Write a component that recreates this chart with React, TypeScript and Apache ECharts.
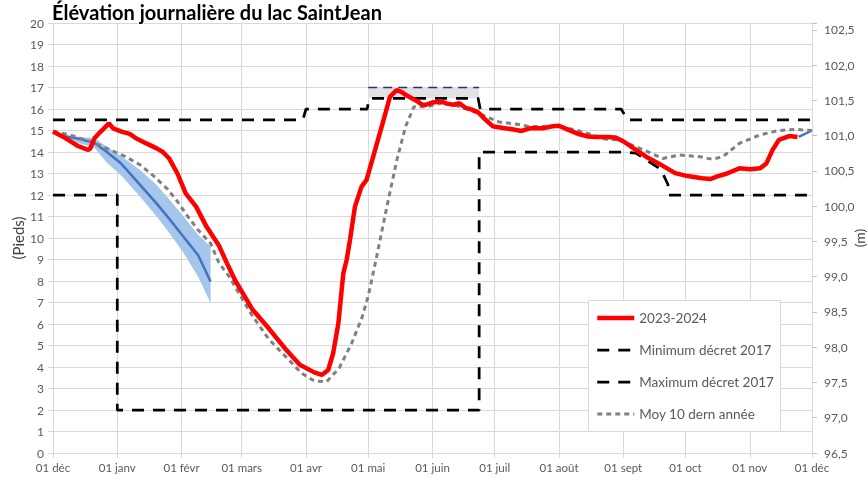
import React, { useEffect, useRef } from 'react';
import * as echarts from 'echarts';

const MONTH_LABELS = ['01 déc', '01 janv', '01 févr', '01 mars', '01 avr', '01 mai', '01 juin', '01 juil', '01 août', '01 sept', '01 oct', '01 nov', '01 déc'];
const MONTH_START_DAYS = [0, 31, 62, 91, 122, 152, 183, 213, 244, 275, 305, 336, 366];
const TOTAL_DAYS = 366;

const FEET_MIN = 0;
const FEET_MAX = 20;
const M_BASE = 96.5;
const FEET_TO_M = 0.3048;

// 2023-2024 observed level (day since 01 déc, feet)
const RED: [number, number][] = [
  [0, 14.95], [5, 14.7], [10, 14.4], [12, 14.28], [15, 14.17], [17, 14.1], [18, 14.17], [20, 14.64], [23, 14.95],
  [27, 15.33], [29, 15.1], [33, 14.95], [37, 14.84], [40, 14.64], [45, 14.4], [50, 14.17], [53, 14.0], [56, 13.7],
  [60, 13.0], [64, 12.08], [69, 11.46], [74, 10.53], [80, 9.65], [84, 8.8], [88, 8.0], [96, 6.7], [104, 5.8],
  [112, 4.85], [119, 4.1], [126, 3.75], [129.6, 3.63], [132.7, 3.86], [135.1, 4.64], [137.6, 6.03], [140, 8.36],
  [141.6, 8.98], [143.2, 9.9], [145.6, 11.46], [148.8, 12.39], [151.2, 12.7], [154.4, 13.78], [158.5, 15.18],
  [162.5, 16.57], [165.7, 16.88], [168, 16.8], [171, 16.6], [175, 16.4], [178, 16.2], [180, 16.2], [183, 16.3],
  [187, 16.35], [190, 16.25], [193, 16.2], [196, 16.27], [199, 16.05], [202, 15.97], [205, 15.85], [208, 15.55],
  [212, 15.2], [217, 15.12], [222, 15.05], [226, 14.98], [230, 15.1], [236, 15.1], [241, 15.2], [244, 15.22],
  [248, 15.05], [253, 14.85], [258, 14.72], [262, 14.7], [267, 14.7], [271, 14.68], [275, 14.5], [280, 14.17],
  [286, 13.78], [292, 13.47], [300, 13.02], [306, 12.88], [313, 12.78], [317, 12.74], [320, 12.85], [325, 13.0],
  [331, 13.24], [336, 13.2], [341, 13.24], [344, 13.47], [347, 14.1], [350, 14.56], [355, 14.74], [359, 14.7],
];

// Moyenne 10 dernières années
const AVG10: [number, number][] = [
  [0, 14.95], [8, 14.8], [18, 14.48], [26, 14.17], [35, 13.78], [42, 13.4], [48, 12.93], [55, 12.3], [60, 11.7],
  [65, 11.0], [70, 10.37], [76, 9.75], [80, 8.85], [85, 8.2], [88, 7.7], [96, 6.4], [104, 5.3], [112, 4.5],
  [120, 3.7], [126, 3.35], [132, 3.32], [138, 3.95], [144, 5.1], [149, 6.3], [152, 7.3], [156, 9.1], [161, 11.46],
  [166, 13.7], [170, 15.18], [174, 16.1], [180, 16.1], [187, 16.27], [193, 16.2], [201, 15.95], [209, 15.64],
  [215, 15.4], [223, 15.3], [230, 15.18], [240, 15.2], [246, 15.15], [252, 15.02], [260, 14.8], [266, 14.6],
  [273, 14.56], [283, 14.17], [294, 13.7], [302, 13.86], [312, 13.78], [318, 13.66], [323, 13.78], [331, 14.4],
  [341, 14.8], [350, 15.0], [358, 15.05], [366, 15.0],
];

const MIN_DECRET: [number, number][] = [
  [0, 12], [31, 12], [31, 2], [205.5, 2], [205.5, 14], [275, 14], [281, 13.95], [293, 13.2], [296.5, 12.5], [297, 12], [366, 12],
];

const MAX_DECRET: [number, number][] = [
  [0, 15.5], [120.5, 15.5], [122, 16], [151.5, 16], [152.5, 16.5], [205, 16.5], [206, 16], [274, 16], [277, 15.5], [366, 15.5],
];

// Exceptional upper zone (gray band)
const ZONE_DAYS = [152, 205.5];
const ZONE_LOW = [16.5, 16.5];
const ZONE_HIGH = [17.0, 17.0];

// Forecast (blue) with uncertainty band
const FC_DAYS = [0, 5, 13, 20, 26, 33, 42, 50, 56, 63, 70, 76];
const FC_MID = [14.95, 14.75, 14.6, 14.42, 14.0, 13.45, 12.47, 11.6, 10.9, 10.05, 9.2, 7.97];
const FC_HIGH = [14.95, 14.8, 14.7, 14.65, 14.25, 13.8, 13.16, 12.47, 11.8, 11.0, 10.15, 9.6];
const FC_LOW = [14.9, 14.7, 14.4, 14.2, 13.5, 12.9, 11.92, 11.0, 10.25, 9.3, 8.2, 6.96];
const FC_END: [number, number][] = [[359.6, 14.7], [366, 15.0]];

const LEGEND = ['2023-2024', 'Minimum décret 2017', 'Maximum décret 2017', 'Moy 10 dern année'];

const FONT = 'Lato, "Open Sans", sans-serif';
const GRID_COLOR = '#d9d9d9';
const TEXT_COLOR = '#595959';

function bandSeries(name: string, days: number[], low: number[], high: number[], color: string) {
  return {
    type: 'custom',
    name,
    xAxisIndex: 1,
    yAxisIndex: 0,
    silent: true,
    z: 1,
    data: [[days[0], low[0]]],
    renderItem: (_params: any, api: any) => {
      const pts: number[][] = [];
      for (let i = 0; i < days.length; i++) pts.push(api.coord([days[i], high[i]]));
      for (let i = days.length - 1; i >= 0; i--) pts.push(api.coord([days[i], low[i]]));
      return { type: 'polygon', shape: { points: pts }, style: { fill: color } };
    },
  };
}

export default function App() {
  const ref = useRef<HTMLDivElement>(null);

  useEffect(() => {
    if (!ref.current) return;
    const chart = echarts.init(ref.current, null, { renderer: 'svg' });
    const categories = Array.from({ length: TOTAL_DAYS + 1 }, (_, i) => 'd' + i);
    const isMonthStart = (i: number) => MONTH_START_DAYS.indexOf(i) >= 0;

    const base = { type: 'line', xAxisIndex: 1, yAxisIndex: 0, symbol: 'none', silent: true };

    chart.setOption({
      animation: false,
      title: {
        text: 'Élévation journalière du lac SaintJean',
        left: 52,
        top: 2,
        padding: 0,
        textStyle: { fontFamily: FONT, fontSize: 20, fontWeight: 'bold', color: '#000' },
      },
      grid: { left: 53, right: 55, top: 23, bottom: 25, containLabel: false, outerBoundsMode: 'none' },
      xAxis: [
        {
          type: 'category',
          data: categories,
          boundaryGap: false,
          axisLine: { show: true, lineStyle: { color: GRID_COLOR } },
          axisTick: { show: true, length: 5, interval: (i: number) => isMonthStart(i), lineStyle: { color: GRID_COLOR } },
          splitLine: { show: true, interval: (i: number) => isMonthStart(i), lineStyle: { color: GRID_COLOR, width: 1 } },
          axisLabel: {
            interval: (i: number) => isMonthStart(i),
            formatter: (_v: string, i: number) => {
              const k = MONTH_START_DAYS.indexOf(i);
              return k >= 0 ? MONTH_LABELS[k] : '';
            },
            color: TEXT_COLOR,
            fontFamily: FONT,
            fontSize: 11.5,
            margin: 8,
          },
        },
        { type: 'value', min: 0, max: TOTAL_DAYS, show: false },
      ],
      yAxis: [
        {
          type: 'value',
          min: FEET_MIN,
          max: FEET_MAX,
          interval: 1,
          name: '(Pieds)',
          nameLocation: 'middle',
          nameRotate: 90,
          nameGap: 28,
          nameMoveOverlap: false,
          nameTextStyle: { fontFamily: FONT, fontSize: 15, color: '#404040' },
          axisLine: { show: true, lineStyle: { color: GRID_COLOR } },
          axisTick: { show: true, length: 5, lineStyle: { color: GRID_COLOR } },
          splitLine: { show: true, lineStyle: { color: GRID_COLOR, width: 1 } },
          axisLabel: { color: TEXT_COLOR, fontFamily: FONT, fontSize: 12, margin: 9 },
        },
        {
          type: 'value',
          position: 'right',
          min: M_BASE,
          max: M_BASE + FEET_MAX * FEET_TO_M,
          interval: 0.5,
          name: '(m)',
          nameLocation: 'middle',
          nameRotate: 90,
          nameGap: 40,
          nameMoveOverlap: false,
          nameTextStyle: { fontFamily: FONT, fontSize: 14, color: '#404040' },
          axisLine: { show: true, lineStyle: { color: GRID_COLOR } },
          axisTick: { show: true, length: 5, lineStyle: { color: '#bfbfbf' } },
          splitLine: { show: false },
          axisLabel: {
            color: TEXT_COLOR,
            fontFamily: FONT,
            fontSize: 12,
            margin: 12,
            formatter: (v: number) => (v > 102.55 ? '' : v.toFixed(1).replace('.', ',')),
          },
        },
      ],
      legend: {
        data: LEGEND,
        orient: 'vertical',
        left: 595,
        top: 311,
        padding: 0,
        itemWidth: 37,
        itemHeight: 14,
        itemGap: 18,
        z: 11,
        itemStyle: { opacity: 0 },
        lineStyle: { width: 'inherit' },
        textStyle: { fontFamily: FONT, fontSize: 13.5, color: TEXT_COLOR },
      },
      graphic: [
        {
          type: 'rect',
          z: 10,
          shape: { x: 588.5, y: 300.5, width: 192, height: 131 },
          style: { fill: '#ffffff', stroke: GRID_COLOR, lineWidth: 1 },
        },
      ],
      series: [
        bandSeries('zoneBand', ZONE_DAYS, ZONE_LOW, ZONE_HIGH, '#e2e2e2'),
        {
          ...base,
          name: 'zoneTop',
          z: 2,
          data: ZONE_DAYS.map((d, i) => [d, ZONE_HIGH[i]]),
          lineStyle: { color: '#203864', width: 1.5, type: [9, 6] },
        },
        bandSeries('fcBand', FC_DAYS, FC_LOW, FC_HIGH, '#a4c6ea'),
        {
          ...base,
          name: 'fcMid',
          z: 2,
          data: FC_DAYS.map((d, i) => [d, FC_MID[i]]),
          lineStyle: { color: '#4472c4', width: 2.5 },
        },
        {
          ...base,
          name: 'fcEnd',
          z: 2,
          data: FC_END,
          lineStyle: { color: '#4472c4', width: 2.5 },
        },
        {
          ...base,
          name: 'Minimum décret 2017',
          z: 3,
          data: MIN_DECRET,
          color: '#000000',
          lineStyle: { color: '#000000', width: 2.75, type: [12, 9] },
        },
        {
          ...base,
          name: 'Maximum décret 2017',
          z: 3,
          data: MAX_DECRET,
          color: '#000000',
          lineStyle: { color: '#000000', width: 2.75, type: [12, 9] },
        },
        {
          ...base,
          name: 'Moy 10 dern année',
          z: 3,
          data: AVG10,
          color: '#808080',
          lineStyle: { color: '#808080', width: 3, type: [5, 4] },
        },
        {
          ...base,
          name: '2023-2024',
          z: 4,
          data: RED,
          color: '#ff0000',
          lineStyle: { color: '#ff0000', width: 4.5 },
        },
      ],
    });
    return () => chart.dispose();
  }, []);

  return <div ref={ref} style={{ position: 'fixed', left: 0, top: 0, width: 867, height: 478 }} />;
}
